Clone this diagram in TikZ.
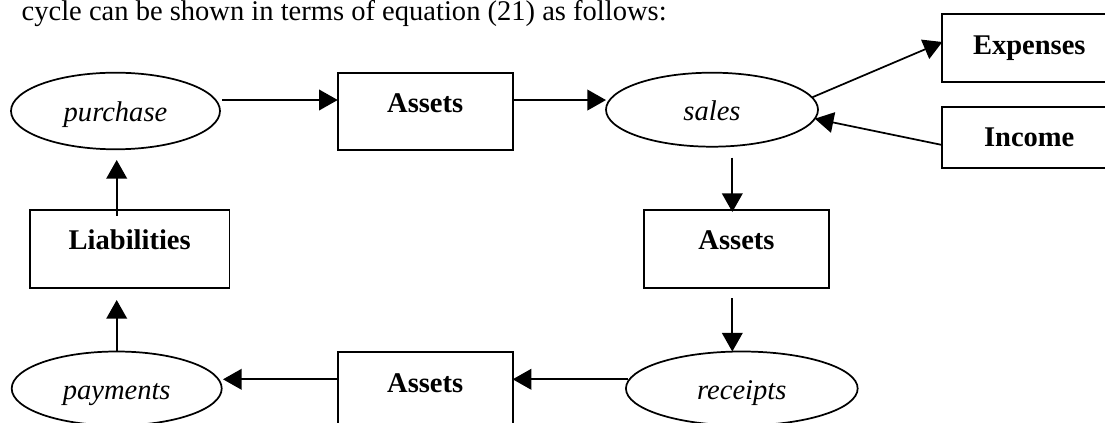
\documentclass[tikz,border=0pt]{standalone}
\usepackage{fontspec}
\setmainfont{Liberation Serif}
\usetikzlibrary{shapes.geometric,arrows.meta,calc}
\begin{document}
\begin{tikzpicture}[x=0.75pt,y=-0.75pt,
  every node/.style={inner sep=0pt, outer sep=0pt},
  ln/.style={line width=1.3pt},
  arr/.style={ln, -{Triangle[length=14pt,width=15.5pt]}},
  box/.style={draw, ln, rectangle, anchor=north, font=\fontsize{21.4}{25}\selectfont\bfseries, text height=30pt},
  ell/.style={draw, ln, ellipse, font=\fontsize{21.4}{25}\selectfont\itshape, text height=22.5pt, text depth=6pt}]
\useasboundingbox (0,0) rectangle (1105,423);

\node[anchor=base west, font=\fontsize{21.4}{25}\selectfont] (intro) at (21.7,21) {cycle can be shown in terms of equation (21) as follows:};

\node[ell, minimum width=156.75pt, minimum height=57.45pt] (purchase) at (115.5,111) {purchase};
\node[ell, minimum width=159pt, minimum height=55.5pt] (sales) at (712,109.7) {sales};
\node[ell, minimum width=173.8pt, minimum height=55.5pt] (receipts) at (741.8,388.5) {receipts};
\node[ell, minimum width=157.5pt, minimum height=55.5pt] (payments) at (116.7,388.5) {payments};

\node[box, minimum width=131.25pt, text depth=27.98pt] (Assets1) at (425.2,72.7) {Assets};
\node[box, minimum width=138.3pt, text depth=28.3pt] (Assets2) at (736.5,210) {Assets};
\node[box, minimum width=131.25pt, text depth=27.98pt] (Assets3) at (425.2,352.3) {Assets};
\node[box, minimum width=149.5pt, text depth=28.3pt] (Liabilities) at (129.7,210) {Liabilities};
\node[box, minimum width=130.5pt, text depth=20.55pt] (Expenses) at (1029.3,14.3) {Expenses};
\node[box, minimum width=130.5pt, text depth=16.2pt] (Income) at (1029.2,106.7) {Income};

\coordinate (a1) at ($(purchase.east)+(2,-11)$);
\draw[arr] (a1) -- (a1 -| Assets1.west);
\coordinate (a2) at ($(Assets1.east)+(0,-11.3)$);
\draw[arr] (a2) -- (a2 -| sales.west);
\draw[arr] (sales.7) -- ($(Expenses.west)+(0,-6)$);
\draw[arr] ($(Income.west)+(0,7.5)$) -- (sales.-5);
\coordinate (a5) at ($(sales.south)+(20.3,11)$);
\draw[arr] (a5) -- ($(a5 |- Assets2.north)+(0,2)$);
\coordinate (a6) at ($(a5 |- Assets2.south)+(0,10.6)$);
\draw[arr] (a6) -- (a6 |- receipts.north);
\coordinate (a7) at ($(receipts.west)+(2,-9.2)$);
\draw[arr] (a7) -- (a7 -| Assets3.east);
\coordinate (a8) at ($(Assets3.west)+(0,-11.65)$);
\draw[arr] (a8) -- ($(a8 -| payments.east)+(1.3,0)$);
\draw[arr] (payments.north) -- ($(payments.north |- Liabilities.south)+(0,12.3)$);
\draw[arr] ($(payments.north |- Liabilities.north)+(0,5.7)$) -- ($(payments.north |- purchase.south)+(0,10.7)$);
\end{tikzpicture}
\end{document}
